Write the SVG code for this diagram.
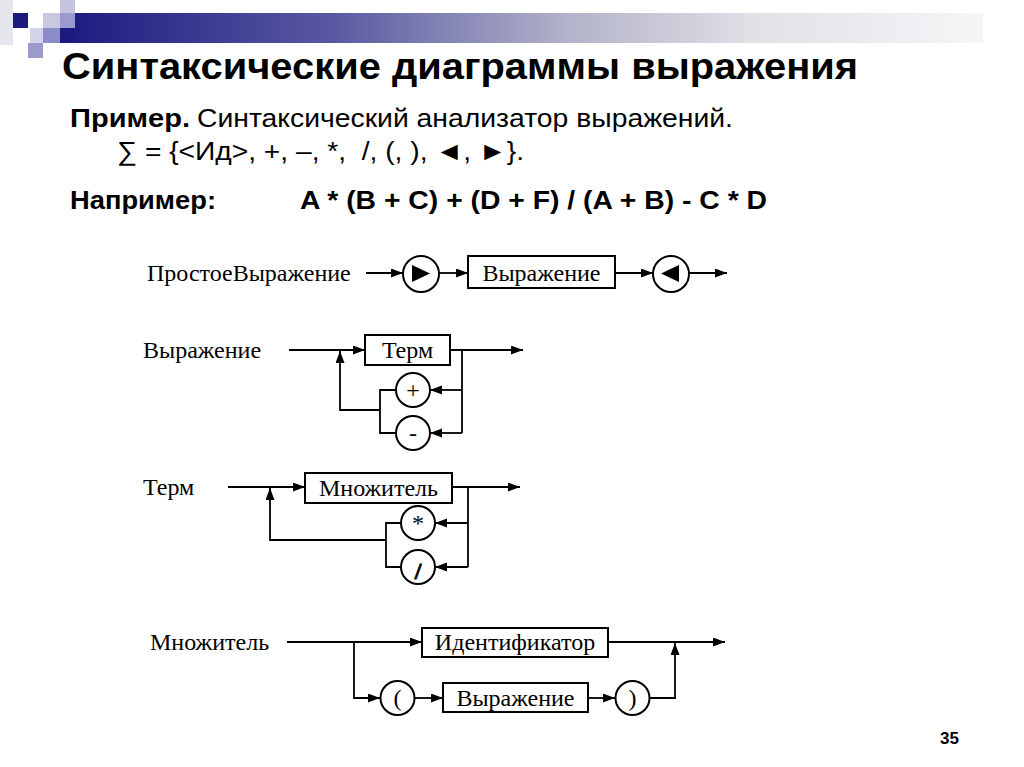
<svg xmlns="http://www.w3.org/2000/svg" width="1024" height="767" viewBox="0 0 1024 767">
<style>
.t{font-family:"Liberation Sans",Arial,sans-serif;fill:#000}
.b{font-weight:bold}
.s{font-family:"Liberation Serif","Times New Roman",serif;font-size:24px;fill:#000}
.box{fill:#fff;stroke:#000;stroke-width:2}
.cir{fill:#fff;stroke:#000;stroke-width:2}
.c path{fill:none;stroke:#000;stroke-width:1.8}
.a{marker-end:url(#ah)}
</style>
<defs>
<linearGradient id="bar" gradientUnits="userSpaceOnUse" x1="60" y1="0" x2="983" y2="0">
<stop offset="0" stop-color="#1a1a80"/>
<stop offset="0.3" stop-color="#5a5aa2"/>
<stop offset="0.55" stop-color="#b2b2c9"/>
<stop offset="0.75" stop-color="#e0e0e6"/>
<stop offset="1" stop-color="#f6f6f8"/>
</linearGradient>
<marker id="ah" markerUnits="userSpaceOnUse" markerWidth="13" markerHeight="10" refX="12" refY="4.5" orient="auto">
<path d="M0,0 L12,4.5 L0,9 Z" fill="#000"/>
</marker>
</defs>
<rect width="1024" height="767" fill="#fff"/>
<g id="decor">
<rect x="0" y="0" width="13" height="45" fill="#e6e6ee"/>
<rect x="75" y="13" width="908" height="30" fill="url(#bar)"/>
<rect x="60" y="28" width="15" height="15" fill="#1a1a80"/>
<rect x="13" y="13" width="15" height="15" fill="#1a1a80"/>
<rect x="43" y="13" width="17" height="15" fill="#c8c8e0"/>
<rect x="60" y="0" width="15" height="13" fill="#c4c4dc"/>
<rect x="60" y="13" width="15" height="15" fill="#9a9ad0"/>
<rect x="30" y="28" width="13" height="15" fill="#d2d2e8"/>
<rect x="43" y="28" width="17" height="15" fill="#8c8cc8"/>
<rect x="28" y="43" width="15" height="15" fill="#9a9acc"/>
</g>
<g id="header">
<text class="t b" x="62" y="79" font-size="37" textLength="796" lengthAdjust="spacingAndGlyphs">Синтаксические диаграммы выражения</text>
<text class="t b" x="70" y="127" font-size="26" textLength="120" lengthAdjust="spacingAndGlyphs">Пример.</text>
<text class="t" x="197" y="127" font-size="26" textLength="536" lengthAdjust="spacingAndGlyphs">Синтаксический анализатор выражений.</text>
<text class="t" x="117" y="160" font-size="26" textLength="407" lengthAdjust="spacingAndGlyphs" xml:space="preserve">∑ = {&lt;Ид&gt;, +, –, *,  /, (, ), ◄, ►}.</text>
<text class="t b" x="70" y="209" font-size="26" textLength="146" lengthAdjust="spacingAndGlyphs">Например:</text>
<text class="t b" x="300" y="209" font-size="26" textLength="467" lengthAdjust="spacingAndGlyphs">A * (B + C) + (D + F) / (A + B) - C * D</text>
<text class="t b" x="940" y="744" font-size="17">35</text>
</g>
<g id="labels">
<text class="s" x="147" y="281">ПростоеВыражение</text>
<text class="s" x="143" y="358">Выражение</text>
<text class="s" x="143" y="495">Терм</text>
<text class="s" x="150" y="650">Множитель</text>
</g>
<g id="connectors" class="c">
<path class="a" d="M366,273 H403"/>
<path class="a" d="M439,273 H468"/>
<path class="a" d="M615,273 H653"/>
<path class="a" d="M689,273 H727"/>
<path class="a" d="M289,350 H365"/>
<path class="a" d="M450,350 H523"/>
<path d="M462,350 V433"/>
<path class="a" d="M462,390 H430"/>
<path class="a" d="M462,433 H430"/>
<path d="M396,390 H380 V433 H396"/>
<path class="a" d="M380,410 H340 V351"/>
<path class="a" d="M228,487 H305"/>
<path class="a" d="M452,487 H520"/>
<path d="M468,487 V567"/>
<path class="a" d="M468,523 H435"/>
<path class="a" d="M468,567 H435"/>
<path d="M401,523 H386 V567 H401"/>
<path class="a" d="M386,540 H270 V488"/>
<path class="a" d="M287,642 H422"/>
<path class="a" d="M608,642 H725"/>
<path class="a" d="M354,642 V698 H380"/>
<path class="a" d="M415,698 H443"/>
<path class="a" d="M588,698 H615"/>
<path class="a" d="M650,698 H675 V643"/>
</g>
<g id="n-start">
<circle class="cir" cx="421" cy="274" r="18"/>
<polygon points="412,265 430,273.5 412,282" fill="#000"/>
</g>
<g id="n-expr1">
<rect class="box" x="468" y="256" width="147" height="32"/>
<text class="s" x="541.5" y="281" text-anchor="middle">Выражение</text>
</g>
<g id="n-end">
<circle class="cir" cx="671" cy="274" r="18"/>
<polygon points="661,273.5 679,265 679,282" fill="#000"/>
</g>
<g id="n-term">
<rect class="box" x="365" y="335" width="85" height="30"/>
<text class="s" x="407.5" y="358" text-anchor="middle">Терм</text>
</g>
<g id="n-plus">
<circle class="cir" cx="413" cy="390" r="17"/>
<text class="s" x="413" y="398" text-anchor="middle">+</text>
</g>
<g id="n-minus">
<circle class="cir" cx="413" cy="433" r="17"/>
<text class="s" x="413" y="441" text-anchor="middle">-</text>
</g>
<g id="n-mult">
<rect class="box" x="305" y="473" width="147" height="30"/>
<text class="s" x="378.5" y="496" text-anchor="middle">Множитель</text>
</g>
<g id="n-star">
<circle class="cir" cx="418" cy="523" r="17"/>
<text class="s" x="418" y="531" text-anchor="middle">*</text>
</g>
<g id="n-slash">
<circle class="cir" cx="418" cy="567" r="17"/>
<text class="s" x="418" y="579" text-anchor="middle" font-size="42" font-weight="bold" stroke="#000" stroke-width="0.8">/</text>
</g>
<g id="n-ident">
<rect class="box" x="422" y="628" width="186" height="29"/>
<text class="s" x="515" y="650" text-anchor="middle">Идентификатор</text>
</g>
<g id="n-lpar">
<circle class="cir" cx="397.5" cy="698" r="17"/>
<text class="s" x="397.5" y="706" text-anchor="middle">(</text>
</g>
<g id="n-expr2">
<rect class="box" x="443" y="683" width="145" height="29"/>
<text class="s" x="515.5" y="706" text-anchor="middle">Выражение</text>
</g>
<g id="n-rpar">
<circle class="cir" cx="632.5" cy="698" r="17"/>
<text class="s" x="632.5" y="706" text-anchor="middle">)</text>
</g>
</svg>
